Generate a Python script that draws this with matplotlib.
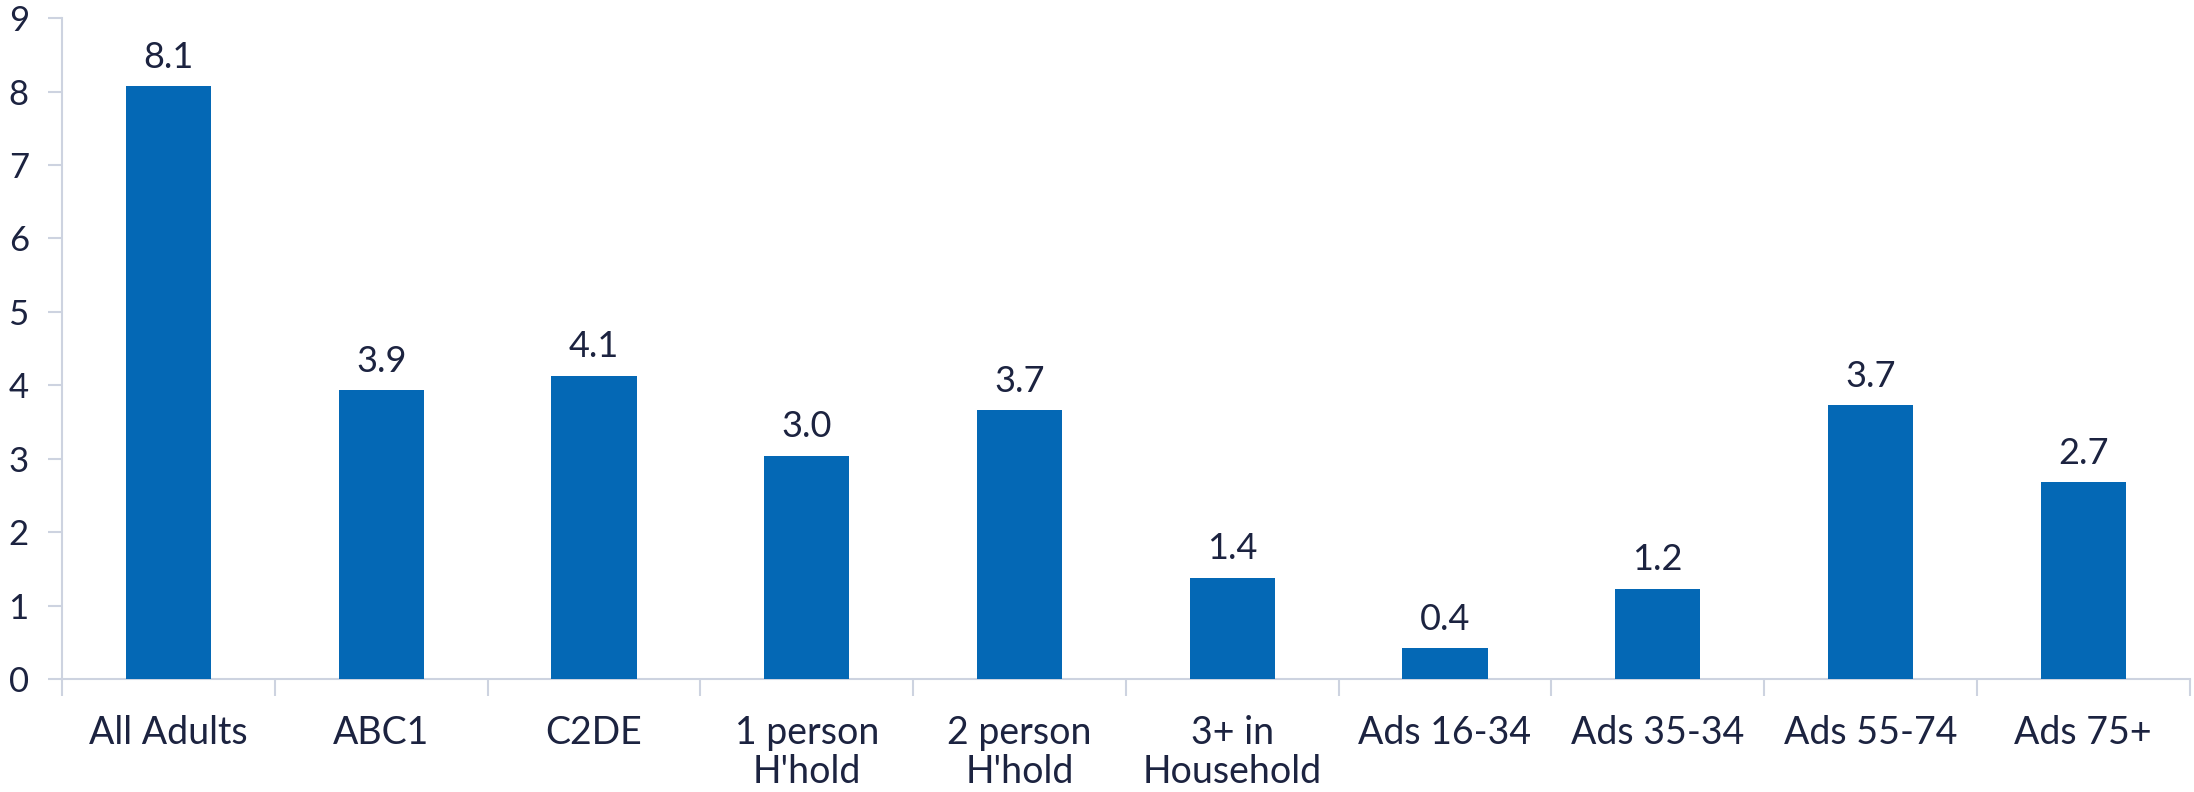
#!/usr/bin/env python3
"""Bar chart of values by adult group."""

import matplotlib
matplotlib.use("Agg")
import matplotlib.pyplot as plt
import numpy as np

CATEGORIES = [
    "All Adults", "ABC1", "C2DE", "1 person\nH'hold", "2 person\nH'hold",
    "3+ in\nHousehold", "Ads 16-34", "Ads 35-34", "Ads 55-74", "Ads 75+",
]
VALUES = [8.07, 3.93, 4.13, 3.04, 3.66, 1.38, 0.42, 1.23, 3.73, 2.68]
Y_TICKS = [0, 1, 2, 3, 4, 5, 6, 7, 8, 9]

BAR_COLOR = "#0468b5"
TEXT_COLOR = "#1c2340"
AXIS_COLOR = "#cdd3e0"

plt.rcParams["font.family"] = ["Lato", "DejaVu Sans"]

fig = plt.figure(figsize=(21.94, 7.92), dpi=100)
ax = fig.add_axes([0.0283, 0.1427, 0.9697, 0.8343])

x = np.arange(len(CATEGORIES))
bars = ax.bar(x, VALUES, width=0.4, color=BAR_COLOR, zorder=3)
for rect, v in zip(bars, VALUES):
    ax.annotate(f"{v:.1f}", (rect.get_x() + rect.get_width() / 2, v),
                xytext=(0, 9), textcoords="offset points",
                ha="center", va="bottom", fontsize=26, color=TEXT_COLOR)

ax.set_xlim(-0.5, len(CATEGORIES) - 0.5)
ax.set_ylim(0, 9)
ax.set_yticks(Y_TICKS)
ax.set_xticks(x)
ax.set_xticklabels(CATEGORIES, fontsize=27, color=TEXT_COLOR, linespacing=1.1)
ax.set_xticks(np.arange(len(CATEGORIES) + 1) - 0.5, minor=True)
ax.tick_params(axis="x", which="major", length=0, pad=26)
ax.tick_params(axis="x", which="minor", length=12, width=1.5, color=AXIS_COLOR)
ax.tick_params(axis="y", length=10, width=1.5, color=AXIS_COLOR,
               labelsize=25, labelcolor=TEXT_COLOR, pad=14)

for side in ["top", "right"]:
    ax.spines[side].set_visible(False)
for side in ["left", "bottom"]:
    ax.spines[side].set_color(AXIS_COLOR)
    ax.spines[side].set_linewidth(1.5)

fig.savefig("out.png", dpi=100)
